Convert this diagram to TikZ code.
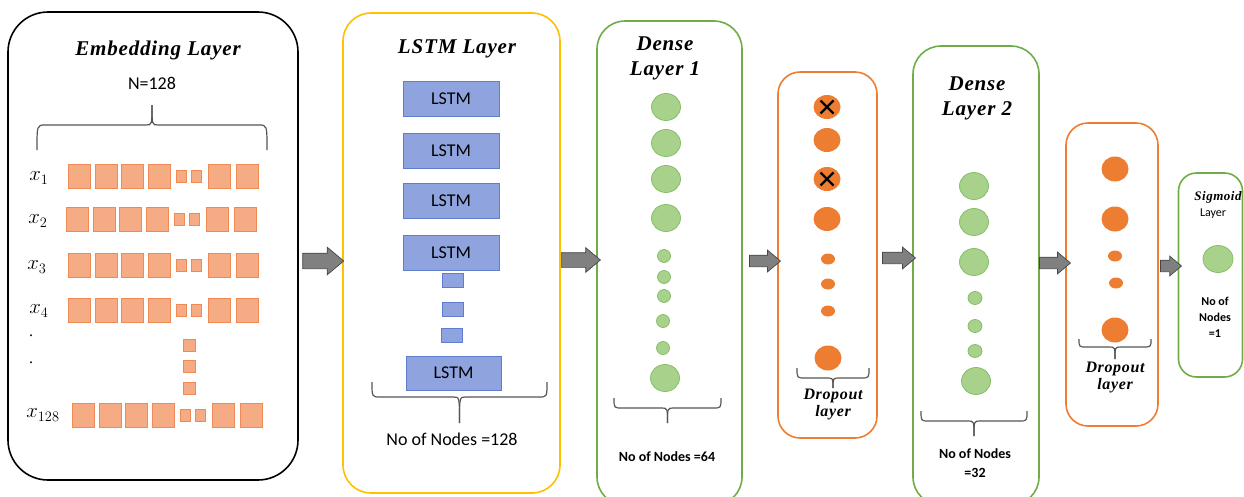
\documentclass[tikz,border=0pt]{standalone}
\usepackage{fontspec}
\setmainfont{Liberation Serif}
\setsansfont{Carlito}
\newfontfamily\titlefont{Liberation Serif}[LetterSpace=4]
\usetikzlibrary{shapes.arrows,shapes.geometric}
\definecolor{embfill}{RGB}{245,172,132}
\definecolor{embdraw}{RGB}{240,138,84}
\definecolor{lstmfill}{RGB}{143,164,222}
\definecolor{lstmdraw}{RGB}{95,125,205}
\definecolor{gfill}{RGB}{168,210,140}
\definecolor{gdraw}{RGB}{135,190,105}
\definecolor{ofill}{RGB}{237,125,49}
\definecolor{ybox}{RGB}{255,192,0}
\definecolor{gbox}{RGB}{112,173,71}
\definecolor{obox}{RGB}{237,125,49}
\definecolor{arrfill}{RGB}{128,128,128}
\definecolor{arrdraw}{RGB}{70,70,70}
\definecolor{bracecol}{RGB}{85,85,85}
\newcommand{\bracedraw}[5]{%
  \draw[bracestyle] (#1,#3) .. controls (#1,#4) .. ({#1+8},#4) -- ({(#1+#2)/2-6},#4) .. controls ({(#1+#2)/2},#4) .. ({(#1+#2)/2},#5);
  \draw[bracestyle] (#2,#3) .. controls (#2,#4) .. ({#2-8},#4) -- ({(#1+#2)/2+6},#4) .. controls ({(#1+#2)/2},#4) .. ({(#1+#2)/2},#5);
}
\begin{document}
\begin{tikzpicture}[x=1pt,y=-1pt,
  layerbox/.style={draw, line width=1.6pt, rounded corners=28pt, inner sep=0pt},
  bracestyle/.style={draw=bracecol, line width=1.2pt},
  titletxt/.style={font=\titlefont\fontsize{21}{25}\selectfont\bfseries\itshape, align=center, inner sep=0pt},
  droptxt/.style={font=\titlefont\fontsize{16}{17}\selectfont\bfseries\itshape, align=center, inner sep=0pt},
  nodestxt/.style={font=\sffamily\bfseries\fontsize{14}{19}\selectfont, align=center, inner sep=0pt},
  xlab/.style={font=\fontsize{21}{22}\selectfont, inner sep=0pt},
  embbig/.style={rectangle, fill=embfill, draw=embdraw, line width=0.8pt, minimum width=22pt, minimum height=24pt, inner sep=0pt},
  embsmall/.style={rectangle, fill=embfill, draw=embdraw, line width=0.8pt, minimum width=10pt, minimum height=12pt, inner sep=0pt},
  lstmbox/.style={rectangle, fill=lstmfill, draw=lstmdraw, line width=0.8pt, minimum width=96pt, minimum height=35pt, inner sep=0pt, font=\sffamily\fontsize{18}{20}\selectfont},
  lstmsmall/.style={rectangle, fill=lstmfill, draw=lstmdraw, line width=0.8pt, minimum width=21pt, minimum height=14pt, inner sep=0pt},
  gbig/.style={ellipse, fill=gfill, draw=gdraw, line width=0.8pt, minimum width=29pt, minimum height=27pt, inner sep=0pt},
  gsmall/.style={ellipse, fill=gfill, draw=gdraw, line width=0.8pt, minimum width=13pt, minimum height=13pt, inner sep=0pt},
  obig/.style={ellipse, fill=ofill, minimum width=27pt, minimum height=24pt, inner sep=0pt},
  osmall/.style={ellipse, fill=ofill, minimum width=14pt, minimum height=11pt, inner sep=0pt},
  blockarrow/.style={single arrow, fill=arrfill, draw=arrdraw, line width=0.7pt, inner xsep=0pt, inner ysep=5.5pt, single arrow tip angle=80, single arrow head extend=5pt},
  crossmark/.style={line width=2.4pt, black}
]
\useasboundingbox (0,0) rectangle (1244,496);

% ---------- layer boxes ----------
\node[layerbox, draw=black, rounded corners=40pt, minimum width=290pt, minimum height=468pt] (emb) at (153,246) {};
\node[layerbox, draw=ybox, minimum width=217pt, minimum height=480pt] (lstm) at (451.5,253) {};
\node[layerbox, draw=gbox, minimum width=145pt, minimum height=484pt] (d1) at (669.5,263) {};
\node[layerbox, draw=obox, rounded corners=22pt, minimum width=99pt, minimum height=366pt] (do1) at (827.5,255) {};
\node[layerbox, draw=gbox, minimum width=126pt, minimum height=459pt] (d2) at (976,275.5) {};
\node[layerbox, draw=obox, rounded corners=22pt, minimum width=92pt, minimum height=303pt] (do2) at (1112,274.5) {};
\node[layerbox, draw=gbox, rounded corners=18pt, minimum width=64pt, minimum height=204pt] (sig) at (1210.5,275) {};

% ---------- block arrows ----------
\node[blockarrow, minimum height=41pt, inner ysep=7.5pt, single arrow head extend=6pt] (a1) at (318.5,261) {};
\node[blockarrow, minimum height=39pt, inner ysep=7pt] (a2) at (576.5,260) {};
\node[blockarrow, minimum height=31pt] (a3) at (761.5,261) {};
\node[blockarrow, minimum height=33pt] (a4) at (895.5,258) {};
\node[blockarrow, minimum height=31pt] (a5) at (1051.5,263) {};
\node[blockarrow, minimum height=21pt, single arrow head extend=4pt] (a6) at (1167.5,266) {};

% ---------- embedding layer ----------
\node[titletxt] (embt) at (158,50) {Embedding Layer};
\node[font=\sffamily\fontsize{18}{20}\selectfont, inner sep=0pt] (embn) at (152,83) {N=128};
\bracedraw{37}{267}{150}{125}{105}
\foreach \r/\yy/\o in {1/176/0,2/219/-2,3/265/0,4/310/0,128/415/4}{
  \node[embbig] (e\r a) at (79+\o,\yy) {};
  \node[embbig] (e\r b) at (106+\o,\yy) {};
  \node[embbig] (e\r c) at (132+\o,\yy) {};
  \node[embbig] (e\r d) at (159+\o,\yy) {};
  \node[embsmall] (e\r e) at (181+\o,\yy) {};
  \node[embsmall] (e\r f) at (196+\o,\yy) {};
  \node[embbig] (e\r g) at (219+\o,\yy) {};
  \node[embbig] (e\r h) at (247+\o,\yy) {};
}
\node[xlab] (x1) at (39,178) {$x_1$};
\node[xlab] (x2) at (38,221) {$x_2$};
\node[xlab] (x3) at (37,267) {$x_3$};
\node[xlab] (x4) at (39,311) {$x_4$};
\node[xlab] (x128) at (43,415) {$x_{128}$};
\node[font=\fontsize{16}{18}\selectfont, inner sep=0pt] (dot1) at (31,336) {.};
\node[font=\fontsize{16}{18}\selectfont, inner sep=0pt] (dot2) at (31,363) {.};
\node[embsmall, minimum width=12pt] (ev1) at (189,345) {};
\node[embsmall, minimum width=12pt] (ev2) at (189,366) {};
\node[embsmall, minimum width=12pt] (ev3) at (189,388) {};

% ---------- LSTM layer ----------
\node[titletxt] (lstmt) at (457,49) {LSTM Layer};
\node[lstmbox] (l1) at (451,98.5) {LSTM};
\node[lstmbox] (l2) at (451,150.5) {LSTM};
\node[lstmbox] (l3) at (451,201) {LSTM};
\node[lstmbox] (l4) at (451,253) {LSTM};
\node[lstmsmall] (ls1) at (452.5,280) {};
\node[lstmsmall] (ls2) at (452.5,309) {};
\node[lstmsmall] (ls3) at (452,335) {};
\node[lstmbox, minimum width=95pt, minimum height=34pt] (l5) at (453.5,373) {LSTM};
\bracedraw{372}{547}{382}{397}{423}
\node[font=\sffamily\fontsize{18}{20}\selectfont, inner sep=0pt] (lstmn) at (452,439) {No of Nodes =128};

% ---------- Dense layer 1 ----------
\node[titletxt] (d1t) at (665,58) {Dense\\Layer 1};
\node[gbig] (g1a) at (666,107) {};
\node[gbig] (g1b) at (666,143) {};
\node[gbig] (g1c) at (666,179) {};
\node[gbig] (g1d) at (666,218) {};
\node[gsmall] (g1e) at (664,256) {};
\node[gsmall] (g1f) at (664,277) {};
\node[gsmall] (g1g) at (664,296) {};
\node[gsmall] (g1h) at (663,321) {};
\node[gsmall] (g1i) at (663,348) {};
\node[gbig] (g1j) at (665,378) {};
\bracedraw{614}{721}{398}{408}{423}
\node[nodestxt] (d1n) at (667,457) {No of Nodes =64};

% ---------- Dropout 1 ----------
\node[obig] (o1a) at (827,107) {};
\node[obig] (o1b) at (827,140) {};
\node[obig] (o1c) at (827,179) {};
\node[obig] (o1d) at (827,219) {};
\node[osmall] (o1e) at (828,259) {};
\node[osmall] (o1f) at (828,284) {};
\node[osmall] (o1g) at (828,311) {};
\node[obig, minimum height=25pt] (o1h) at (828,358) {};
\draw[crossmark] ([shift={(-6.5,-6.5)}]o1a.center) -- ([shift={(6.5,6.5)}]o1a.center);
\draw[crossmark] ([shift={(-6.5,6.5)}]o1a.center) -- ([shift={(6.5,-6.5)}]o1a.center);
\draw[crossmark] ([shift={(-6.5,-6.5)}]o1c.center) -- ([shift={(6.5,6.5)}]o1c.center);
\draw[crossmark] ([shift={(-6.5,6.5)}]o1c.center) -- ([shift={(6.5,-6.5)}]o1c.center);
\bracedraw{797}{869}{368}{378}{388}
\node[droptxt] (do1t) at (833,404) {Dropout\\layer};

% ---------- Dense layer 2 ----------
\node[titletxt] (d2t) at (977,98) {Dense\\Layer 2};
\node[gbig] (g2a) at (974,186) {};
\node[gbig] (g2b) at (974,222) {};
\node[gbig] (g2c) at (974,262) {};
\node[gsmall, minimum width=14pt] (g2d) at (975,298) {};
\node[gsmall, minimum width=14pt] (g2e) at (975,326) {};
\node[gsmall, minimum width=14pt] (g2f) at (975,351) {};
\node[gbig] (g2g) at (976,381) {};
\bracedraw{921}{1027}{411}{421}{436}
\node[nodestxt] (d2n) at (975,463) {No of Nodes\\=32};

% ---------- Dropout 2 ----------
\node[obig, minimum height=25pt] (o2a) at (1115,169) {};
\node[obig, minimum height=25pt] (o2b) at (1115,219) {};
\node[osmall] (o2c) at (1115,256) {};
\node[osmall] (o2d) at (1116,283) {};
\node[obig, minimum height=25pt] (o2e) at (1115,330) {};
\bracedraw{1079}{1151}{339}{347}{359}
\node[droptxt] (do2t) at (1115,377) {Dropout\\layer};

% ---------- Sigmoid ----------
\node[font=\titlefont\fontsize{13}{14}\selectfont\bfseries\itshape, inner sep=0pt] (sigt) at (1218,197) {Sigmoid};
\node[font=\sffamily\fontsize{12}{13}\selectfont, inner sep=0pt] (sigl) at (1213,214) {Layer};
\node[gbig, minimum width=30pt] (sg) at (1218,259) {};
\node[nodestxt, font=\sffamily\bfseries\fontsize{12}{16}\selectfont] (sign) at (1215,317) {No of\\Nodes\\=1};
\end{tikzpicture}
\end{document}
